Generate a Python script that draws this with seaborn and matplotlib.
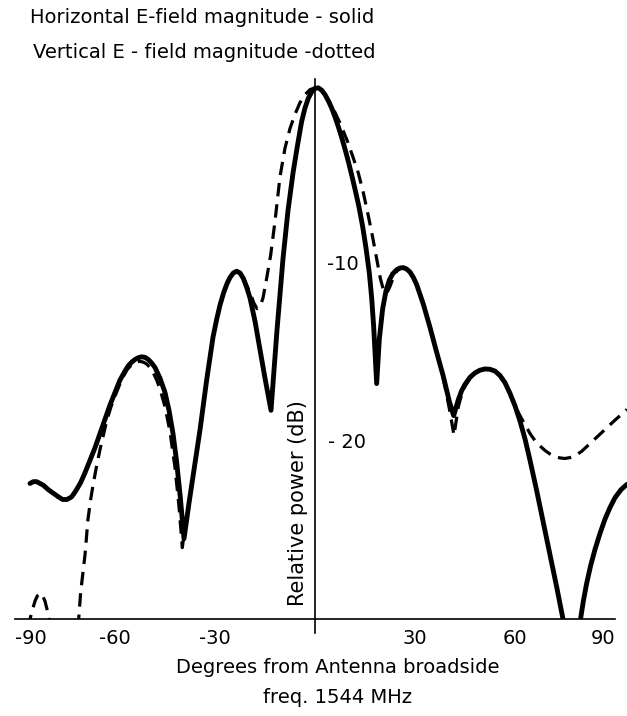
import numpy as np
import pandas as pd
import matplotlib
matplotlib.use("Agg")
import matplotlib.pyplot as plt
import seaborn as sns

# ---- data ----
solid_deg = [-85.5, -84.5, -83.5, -82.5, -81.5, -80, -78.5, -77, -75.7, -74.4, -73, -71.7, -70.3, -69, -67.5, -66,
             -64.5, -63, -61.5, -60, -58.5, -57, -56, -55, -54, -53, -52, -51, -50, -49, -48, -46.5, -45, -43.8,
             -42.6, -41.5, -40.4, -39.3,
             -37.8, -36.2, -34.5, -32.5, -30.6, -29.5, -28.5, -27.4, -26.4, -25.5, -24.5, -23.5, -22.5, -21.5,
             -20.5, -19.5, -18, -16.5, -15, -13.2,
             -11.4, -9.6, -8.1, -6.6, -5.3, -4, -3, -2, -1, 0, 1, 2, 3, 4, 5, 6, 7, 8, 9, 10, 11, 12, 13.2, 14.3,
             15.3, 16.3, 17, 17.6, 18.5,
             19.3, 20.3, 21.3, 22.3, 23.3, 24.5, 25.5, 26.5, 27.5, 28.5, 29.5, 30.5, 32.5, 34.5, 36.5, 38.5, 40.3, 41.6,
             43, 44, 45, 46.5, 48, 49.5, 51, 52.5, 54, 55.5, 57, 58.5, 60, 61.5, 63, 64.5, 66.5, 68.5, 70.5, 72.5,
             74.5, 77,
             79.5, 80.5, 81.5, 82.7, 84, 85.5, 87, 88.5, 90, 91.8, 93.6]
solid_db = [-22.4, -22.3, -22.3, -22.4, -22.5, -22.75, -22.95, -23.15, -23.3, -23.3, -23.15, -22.8, -22.35, -21.8,
            -21.1, -20.4, -19.6, -18.8, -18.0, -17.3, -16.6, -16.1, -15.8, -15.6, -15.45, -15.35, -15.3, -15.33,
            -15.45, -15.65, -15.9, -16.5, -17.3, -18.3,
            -19.6, -21.2, -23.2, -25.5,
            -23.5, -21.5, -19.4, -16.6, -14.2, -13.2, -12.4, -11.7, -11.2, -10.85, -10.6, -10.5, -10.6, -10.9,
            -11.4, -12.0, -13.3, -14.9, -16.5, -18.3,
            -13.8, -9.8, -7.1, -5.0, -3.5, -2.1, -1.35, -0.8, -0.45, -0.25, -0.22, -0.35, -0.6, -0.95, -1.35, -1.85,
            -2.4, -3.0, -3.65, -4.35, -5.1, -5.9, -6.9, -8.0,
            -9.2, -10.6, -12.0, -13.6, -16.8,
            -14.3, -12.6, -11.6, -11.0, -10.65, -10.42, -10.32, -10.3, -10.38, -10.55, -10.85, -11.25, -12.35,
            -13.65, -15.05, -16.4, -17.8, -18.6,
            -17.7, -17.2, -16.85, -16.45, -16.2, -16.05, -15.98, -16.0, -16.1, -16.35, -16.75, -17.35, -18.05,
            -18.9, -19.9, -21.1, -22.8, -24.6, -26.4, -28.2,
            -30.1, -33.0,
            -30.2, -29.0, -28.0, -27.0, -26.1, -25.2, -24.4, -23.75, -23.2, -22.75, -22.45]

dash_a_deg = [-86.2, -85.5, -84.8, -84, -83.3, -82.5, -81.7, -81, -80.2, -79.3]
dash_a_db = [-30.5, -30.0, -29.5, -29.0, -28.7, -28.55, -28.7, -29.0, -29.6, -30.5]

dash_b_deg = [-71.1, -70.3, -69, -68.1, -67.3, -66.6, -65.5, -64.5, -63.5, -62.5, -61.2, -60, -58.7, -57.5,
              -56.3, -55, -53.8, -52.5, -51.5, -50.5, -49.5, -48.5, -47.5, -46.5, -45, -43.5, -42, -40.8, -39.8,
              -38.8, -37.8, -36.2, -34.5, -32.5, -30.6, -29.5, -28.5, -27.4, -26.4, -25.5, -24.5, -23.5, -22.5,
              -21.5, -20.5, -19.5, -18.3, -17.4, -16.5, -15.6, -14.6, -13.3, -12, -10.5, -9, -7.5, -6, -4.5, -3,
              -1.5, 0, 1.5, 3, 4.5, 6, 7.5, 9.6, 11.3, 13, 14.5, 16, 17.3, 18.6, 19.6, 20.6, 21.5, 22.5, 23.5,
              24.5, 25.5, 26.5, 27.5, 28.5, 29.5, 30.5, 32.5, 34.5, 36.5, 38.5, 40.3, 41.7,
              43, 44, 45, 46.5, 48, 49.5, 51, 52.5, 54, 55.5, 57, 58.5, 60,
              61.5, 63, 64.5, 66, 67.5, 69, 70.5, 72, 73.5, 75, 76.5, 78, 80, 82, 84, 86, 88, 90, 91.8, 93.6]
dash_b_db = [-30.5, -28.5, -26.4, -24.4, -23.3, -22.5, -21.4, -20.5, -19.7, -18.9, -18.1, -17.5, -16.9, -16.4,
             -16.0, -15.75, -15.6, -15.55, -15.6, -15.7, -15.9, -16.2, -16.6, -17.1, -18.1, -19.5, -21.5, -23.7,
             -26.0,
             -24.5, -23.5, -21.5, -19.4, -16.6, -14.2, -13.2, -12.4, -11.7, -11.2, -10.85, -10.6, -10.5, -10.6,
             -10.9, -11.3, -11.7, -12.3, -12.6, -12.5, -12.0, -11.0, -9.6, -7.7, -5.2, -3.6, -2.5, -1.7, -1.05,
             -0.6, -0.32, -0.22,
             -0.3, -0.6, -1.05, -1.6, -2.2, -3.15, -4.05, -5.0, -6.1, -7.4, -8.6, -9.9, -10.9, -11.6, -11.75,
             -11.35, -10.85, -10.5, -10.35, -10.3, -10.38, -10.55, -10.85, -11.25, -12.35, -13.65, -15.05, -16.5,
             -18.2, -19.7,
             -18.1, -17.4, -16.95, -16.5, -16.22, -16.06, -15.98, -16.0, -16.1, -16.35, -16.75, -17.35, -18.05,
             -18.6, -19.1, -19.6, -20.0, -20.3, -20.55, -20.75, -20.9, -20.97, -21.0, -20.95, -20.85, -20.6, -20.25,
             -19.9, -19.55, -19.2, -18.85, -18.55, -18.25]

x_ticks = [-90, -60, -30, 30, 60, 90]
x_ticklabels = ["-90", "-60", "-30", "30", "60", "90"]
y_ticks = [-5, -10, -15, -20, -25]
y_ticklabels = ["", "-10", "", "- 20", ""]

title_lines = ["Horizontal E-field magnitude - solid", "Vertical E - field magnitude -dotted"]
xlabel_lines = ["Degrees from Antenna broadside", "freq. 1544 MHz"]
ylabel = "Relative power (dB)"

# ---- plot ----
sns.set_style("white")
plt.rcParams['font.family'] = ['DejaVu Sans']
plt.rcParams['text.color'] = 'black'
plt.rcParams['xtick.color'] = 'black'
plt.rcParams['ytick.color'] = 'black'

fig = plt.figure(figsize=(6.27, 7.16), dpi=100)
ax = fig.add_axes([15/627, (716-619)/716, 612/627, (619-75)/716])

solid = pd.DataFrame({"deg": solid_deg, "db": solid_db})
da = pd.DataFrame({"deg": dash_a_deg, "db": dash_a_db})
db = pd.DataFrame({"deg": dash_b_deg, "db": dash_b_db})

sns.lineplot(data=solid, x="deg", y="db", ax=ax, color="black", lw=3.5, sort=False, estimator=None,
             solid_capstyle="round", solid_joinstyle="round")
for d in (da, db):
    sns.lineplot(data=d, x="deg", y="db", ax=ax, color="black", lw=2.3, sort=False, estimator=None)
for ln in ax.lines[1:]:
    ln.set_dashes((4.2, 2.5))

ax.set_xlim(-90, 93.6)
ax.set_ylim(-30, 0.5)

for s in ["top", "right"]:
    ax.spines[s].set_visible(False)
ax.spines["left"].set_position(("data", 0))
ax.spines["left"].set_bounds(-30.8, 0.3)
ax.spines["bottom"].set_bounds(-90, 90)
for s in ["left", "bottom"]:
    ax.spines[s].set_color("black")
    ax.spines[s].set_linewidth(1.2)

ax.set_xticks(x_ticks)
ax.set_xticklabels(x_ticklabels, fontsize=14, color="black")
ax.set_yticks(y_ticks)
ax.set_yticklabels(y_ticklabels, fontsize=14, color="black")
ax.tick_params(axis="x", direction="out", length=5, width=1.2, color="black", pad=2)
ax.tick_params(axis="y", direction="out", length=4, width=1.2, color="black", pad=-13)
for lbl in ax.get_yticklabels():
    lbl.set_horizontalalignment("left")
xl = ax.get_xticklabels()
xl[0].set_horizontalalignment("left")
xl[-1].set_horizontalalignment("right")

ax.set_xlabel("")
ax.set_ylabel("")
ax.text(0.4624, 0.213, ylabel, transform=ax.transAxes, rotation=90, ha="center", va="center",
        fontsize=15, color="black")

fig.text(30/627, 1 - 8/716, title_lines[0], ha="left", va="top", fontsize=14, color="black")
fig.text(33/627, 1 - 43/716, title_lines[1], ha="left", va="top", fontsize=14, color="black")
fig.text(338/627, 1 - 658/716, xlabel_lines[0], ha="center", va="top", fontsize=14, color="black")
fig.text(338/627, 1 - 688/716, xlabel_lines[1], ha="center", va="top", fontsize=14, color="black")

fig.savefig("out.png", dpi=100)
